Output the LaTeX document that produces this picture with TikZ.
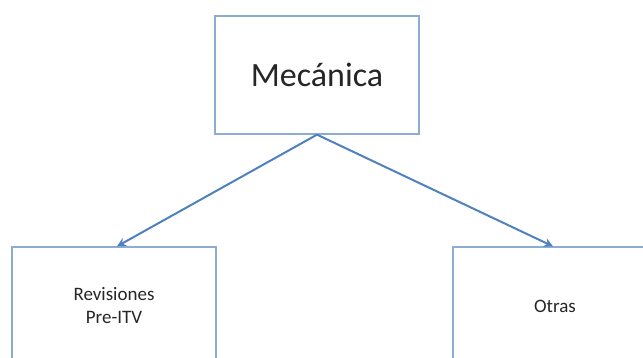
\documentclass[tikz,border=0pt]{standalone}
\usepackage{fontspec}
\setmainfont{Carlito}
\usetikzlibrary{arrows.meta}
\definecolor{boxline}{RGB}{140,172,212}
\definecolor{arrowline}{RGB}{79,129,189}
\begin{document}
\begin{tikzpicture}[x=1pt,y=-1pt,
  box/.style={draw=boxline,line width=1.3pt,fill=white,minimum width=204pt,minimum height=118pt,inner sep=0pt,align=center,text=black!85},
  link/.style={draw=arrowline,line width=2pt,-{Stealth[length=9pt,width=9pt,inset=3pt]}}]
\useasboundingbox (0,0) rectangle (643,358);
\clip (0,0) rectangle (643,358);
\node[box,font=\fontsize{34}{40}\selectfont] (top) at (317,75) {Mecánica};
\node[box,font=\fontsize{19}{23}\selectfont] (left) at (114,306) {Revisiones\\Pre-ITV};
\node[box,font=\fontsize{19}{23}\selectfont] (right) at (555,306) {Otras};
\draw[link] (top.south) -- ([xshift=3pt]left.north);
\draw[link] (top.south) -- ([xshift=-2pt]right.north);
\end{tikzpicture}
\end{document}
